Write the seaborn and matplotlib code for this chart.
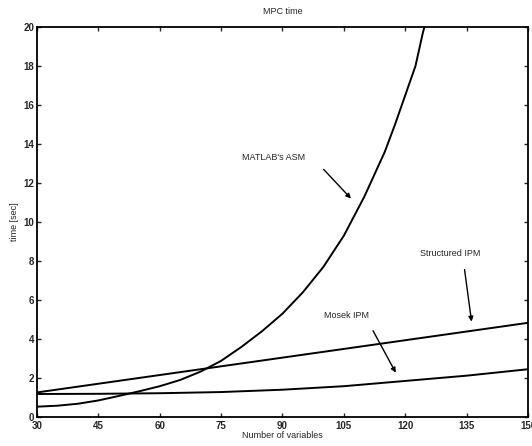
import numpy as np
import pandas as pd
import seaborn as sns
import matplotlib
matplotlib.use("Agg")
import matplotlib.pyplot as plt

# Data
asm_n = [30, 35, 40, 45, 50, 55, 60, 65, 70, 75, 80, 85, 90, 95, 100, 105, 110,
         115, 117.5, 120, 122.5, 124.3, 125.2]
asm_t = [0.53, 0.58, 0.68, 0.85, 1.08, 1.32, 1.58, 1.9, 2.33, 2.88, 3.6, 4.4, 5.3, 6.4,
         7.7, 9.3, 11.3, 13.6, 15.0, 16.5, 18.0, 19.7, 20.4]

ipm_n = [30, 150]
ipm_t = [1.26, 4.83]

mosek_n = [30, 45, 60, 75, 90, 105, 120, 135, 150]
mosek_t = [1.18, 1.19, 1.22, 1.28, 1.4, 1.58, 1.85, 2.12, 2.45]

x_ticks = [30, 45, 60, 75, 90, 105, 120, 135, 150]
y_ticks = [0, 2, 4, 6, 8, 10, 12, 14, 16, 18, 20]

sns.set_style("ticks")
plt.rcParams["font.family"] = ["Liberation Sans", "DejaVu Sans"]

fig = plt.figure(figsize=(5.32, 4.46), dpi=100)
ax = fig.add_axes([0.0695, 0.065, 0.923, 0.8745])

sns.lineplot(x=asm_n, y=asm_t, ax=ax, color="black", linewidth=1.4)
sns.lineplot(x=ipm_n, y=ipm_t, ax=ax, color="black", linewidth=1.4)
sns.lineplot(x=mosek_n, y=mosek_t, ax=ax, color="black", linewidth=1.4)

ax.set_xlim(30, 150)
ax.set_ylim(0, 20)
ax.set_xticks(x_ticks)
ax.set_yticks(y_ticks)
ax.tick_params(direction="in", length=3, width=1, labelsize=7, top=True, right=True)
ax.tick_params(axis="x", pad=3)
ax.tick_params(axis="y", pad=2)
for lbl in ax.get_xticklabels() + ax.get_yticklabels():
    lbl.set_fontweight("bold")
for s in ax.spines.values():
    s.set_visible(True)
    s.set_linewidth(1.3)
    s.set_color("black")

ax.set_title("MPC time", fontsize=6.5, pad=9)
ax.set_xlabel("Number of variables", fontsize=6.5, labelpad=0)
ax.set_ylabel("time [sec]", fontsize=6.5, labelpad=3)

arrow = dict(arrowstyle="-|>", color="black", lw=1.0, mutation_scale=7)
ax.text(87.8, 13.3, "MATLAB's ASM", ha="center", va="center", fontsize=6.5)
ax.annotate("", xy=(107.2, 11.1), xytext=(99.6, 12.8), arrowprops=arrow)
ax.text(131.1, 8.36, "Structured IPM", ha="center", va="center", fontsize=6.5)
ax.annotate("", xy=(136.3, 4.75), xytext=(134.4, 7.7), arrowprops=arrow)
ax.text(105.7, 5.2, "Mosek IPM", ha="center", va="center", fontsize=6.5)
ax.annotate("", xy=(118, 2.15), xytext=(111.8, 4.55), arrowprops=arrow)

fig.savefig("out.png", dpi=100)
